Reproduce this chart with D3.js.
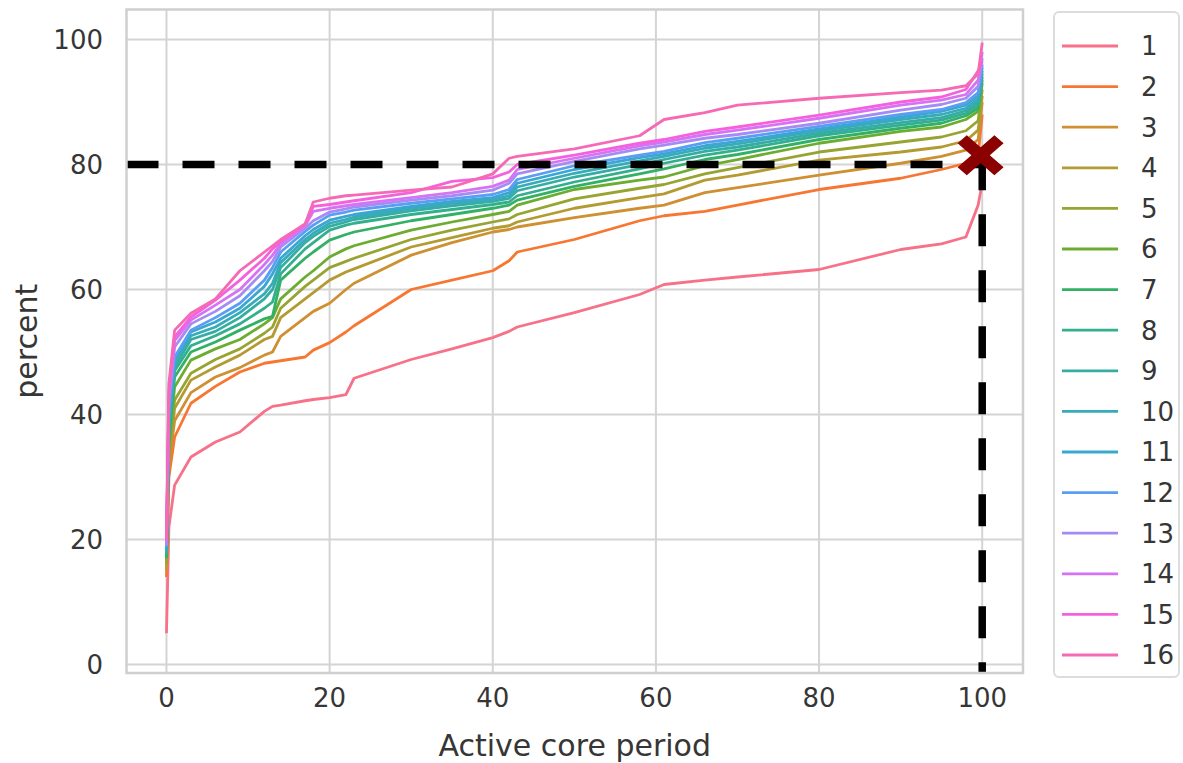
<!DOCTYPE html>
<html>
<head>
<meta charset="utf-8">
<script src="https://cdn.jsdelivr.net/npm/d3@7"></script>
<style>
	body { margin: 0; background: #fff; }
	text { font-family: "DejaVu Sans", sans-serif; fill: #363636; }
</style>
</head>
<body>
<svg class="chart" width="1183" height="763"></svg>
<script>
// active core period (x) shared by every series
var periods = [0, 0.3, 1, 3, 6, 9, 12, 13, 14, 17, 18, 20, 22, 23, 30, 35, 40, 42, 43, 50, 58, 61, 66, 70, 80, 90, 95, 98, 99.5, 100];

var series1 = [5, 22, 28.7, 33.2, 35.6, 37.2, 40.5, 41.3, 41.5, 42.2, 42.4, 42.7, 43.2, 45.8, 48.8, 50.5, 52.3, 53.3, 54, 56.3, 59.2, 60.8, 61.5, 62, 63.2, 66.4, 67.3, 68.4, 73.5, 77],
	series2 = [14, 30, 36.4, 41.8, 44.5, 46.8, 48.2, 48.4, 48.6, 49.2, 50.3, 51.5, 53.2, 54.2, 60, 61.5, 63, 64.6, 66, 68, 71, 71.8, 72.5, 73.5, 76, 77.8, 79.2, 80.2, 81.5, 88],
	series3 = [15, 32, 39, 43.5, 46, 47.5, 49.5, 50, 52.5, 55.5, 56.5, 57.8, 60, 61, 65.5, 67.5, 69.2, 69.6, 70, 71.5, 73, 73.5, 75.5, 76.3, 78.3, 80.2, 81.3, 82.3, 84, 90],
	series4 = [16, 33, 41, 45.5, 47.6, 49.5, 52, 52.5, 55.5, 58.5, 59.5, 61.5, 62.8, 63.3, 66.8, 68.3, 69.8, 70.2, 70.8, 73, 74.7, 75.3, 77.5, 78.3, 80.7, 82, 82.8, 83.8, 85.5, 91],
	series5 = [16, 34, 42.3, 46.6, 48.8, 50.5, 53, 54, 57, 60.5, 61.5, 63.5, 64.5, 65, 68, 69.5, 70.8, 71.3, 72, 74.5, 76.2, 76.8, 78.5, 79.5, 82, 83.6, 84.4, 85.4, 87, 92],
	series6 = [17, 35, 44.4, 48.7, 50.5, 52, 54.5, 55.5, 58.5, 62, 63, 65.2, 66.5, 67, 69.5, 70.8, 72, 72.5, 73.5, 76, 77.5, 78, 79.8, 80.8, 83.4, 85.3, 86, 87.2, 88.5, 93],
	series7 = [17, 36, 46, 50, 51.6, 53.5, 55.3, 55.7, 61.5, 65, 66, 67.9, 68.8, 69.2, 71, 72, 73, 73.5, 74.3, 76.5, 78.5, 79.3, 80.8, 81.6, 84, 85.8, 86.6, 87.8, 89, 93.5],
	series8 = [17.5, 37, 47, 51, 52.6, 54.5, 57, 58, 62.5, 66.5, 67.5, 69.5, 70.3, 70.6, 72, 72.8, 73.6, 74, 75, 77.2, 79.3, 80.2, 81.5, 82.3, 84.6, 86.3, 87.1, 88.2, 89.5, 94],
	series9 = [18, 38, 47.6, 52, 53.3, 55.5, 58.5, 60, 63.5, 67.5, 68.5, 70.1, 70.8, 71.2, 72.6, 73.4, 74.1, 74.6, 75.8, 78, 80, 80.8, 82.1, 82.8, 85, 86.7, 87.5, 88.6, 90, 94.5],
	series10 = [18, 39, 48.4, 52.6, 54, 56.3, 59.3, 61, 64.3, 68, 69, 70.6, 71.2, 71.6, 73, 73.8, 74.4, 75, 76.4, 78.6, 80.6, 81.3, 82.6, 83.3, 85.4, 87.2, 88, 89, 90.5, 95],
	series11 = [18.5, 40, 49, 53.2, 54.8, 57, 60.5, 62.5, 65, 68.6, 69.6, 71.1, 71.7, 72, 73.3, 74.1, 74.7, 75.5, 77, 79.2, 81.1, 81.7, 83, 83.7, 85.7, 87.6, 88.5, 89.5, 91, 95.5],
	series12 = [19, 41, 49.2, 53.5, 55.5, 57.8, 61.5, 63.5, 66, 69.3, 70.3, 71.9, 72.4, 72.7, 73.8, 74.5, 75.2, 76, 77.6, 79.8, 81.5, 82.1, 83.5, 84.2, 86.1, 88, 88.8, 89.9, 91.5, 96],
	series13 = [19, 42, 50.8, 54.5, 56.5, 59, 63, 64.5, 66.8, 69.8, 71, 72.4, 72.9, 73.2, 74.3, 75, 75.9, 77, 78.5, 80.5, 82.5, 83.1, 84.2, 84.8, 86.6, 88.7, 89.6, 90.6, 92.5, 97],
	series14 = [19.5, 43, 51.8, 55.1, 57.5, 60, 64, 65.5, 67.3, 70.2, 72.5, 73, 73.4, 73.6, 74.7, 75.5, 76.5, 77.5, 79.2, 81, 83, 83.6, 84.8, 85.5, 87.4, 89.5, 90.3, 91.2, 93.5, 98],
	series15 = [20, 44, 52.4, 55.6, 58.3, 61.5, 65, 66.5, 67.7, 70.5, 73.3, 73.6, 74, 74.2, 75.5, 77.3, 77.9, 78.8, 80, 81.5, 83.4, 84, 85.3, 86, 87.9, 90, 90.8, 92, 95, 96.5],
	series16 = [20, 45, 53.5, 56.2, 58.5, 63, 66, 67, 68, 70.5, 74, 74.6, 75, 75.1, 75.9, 76.4, 78.5, 81, 81.3, 82.5, 84.6, 87.2, 88.3, 89.5, 90.6, 91.5, 91.9, 92.6, 94.5, 99.5];

var seriesNames = ["1", "2", "3", "4", "5", "6", "7", "8", "9", "10", "11", "12", "13", "14", "15", "16"];
var allSeries = [series1, series2, series3, series4, series5, series6, series7, series8,
	series9, series10, series11, series12, series13, series14, series15, series16];

var xTicks = [0, 20, 40, 60, 80, 100],
	yTicks = [0, 20, 40, 60, 80, 100];

// threshold guide and marker
var thresholdX = 100,
	thresholdY = 80,
	markerPoint = [99.8, 81.5];

// seaborn husl palette (h=.01, s=.9, l=.65)
function huslToHex(h, s, l) {
	var m = [[3.2406, -1.5372, -0.4986], [-0.9689, 1.8758, 0.0415], [0.0557, -0.2040, 1.0570]];
	var refU = 0.19784, refV = 0.46834, kappa = 903.3, eps = 0.008856;
	var hrad = h / 360 * 2 * Math.PI,
		sinH = Math.sin(hrad),
		cosH = Math.cos(hrad);
	var sub1 = Math.pow(l + 16, 3) / 1560896,
		sub2 = sub1 > eps ? sub1 : l / kappa;
	var maxC = Infinity;
	m.forEach(function (row) {
		var t0 = (0.99915 * row[0] + 1.05122 * row[1] + 1.14460 * row[2]) * sub2;
		var rbottom = 0.86330 * row[2] - 0.17266 * row[1];
		var lbottom = 0.12949 * row[2] - 0.38848 * row[0];
		var bottom = (rbottom * sinH + lbottom * cosH) * sub2;
		[0, 1].forEach(function (t) {
			var c = l * (t0 - 1.05122 * t) / (bottom + 0.17266 * sinH * t);
			if (c > 0 && c < maxC) maxC = c;
		});
	});
	var C = maxC / 100 * s;
	var U = Math.cos(hrad) * C,
		V = Math.sin(hrad) * C;
	var t3 = Math.pow((l + 16) / 116, 3);
	var Y = t3 > eps ? t3 : l / kappa;
	var varU = U / (13 * l) + refU,
		varV = V / (13 * l) + refV;
	var X = -(9 * Y * varU) / ((varU - 4) * varV - varU * varV);
	var Z = (9 * Y - 15 * varV * Y - varV * X) / (3 * varV);
	var rgb = m.map(function (row) {
		var c = row[0] * X + row[1] * Y + row[2] * Z;
		c = c <= 0.0031308 ? 12.92 * c : 1.055 * Math.pow(c, 1 / 2.4) - 0.055;
		return Math.max(0, Math.min(1, c)) * 255;
	});
	return d3.rgb(rgb[0], rgb[1], rgb[2]).formatHex();
}

var palette = seriesNames.map(function (d, i) {
	var h = ((i / seriesNames.length + 0.01) % 1) * 359;
	return huslToHex(h, 0.9 * 99, 0.65 * 99);
});
var color = d3.scaleOrdinal().domain(seriesNames).range(palette);

var svg = d3.select(".chart"),
	plotLeft = 126.5,
	plotRight = 1023,
	plotTop = 9.5,
	plotBottom = 673;

var x = d3.scaleLinear().domain([-4.9, 105]).range([plotLeft, plotRight]),
	y = d3.scaleLinear().domain([-1.36, 104.8]).range([plotBottom, plotTop]);

svg.append("rect").attr("width", 1183).attr("height", 763).attr("fill", "#fff");

svg.append("defs").append("clipPath").attr("id", "plot-clip")
	.append("rect")
	.attr("x", plotLeft).attr("y", plotTop)
	.attr("width", plotRight - plotLeft).attr("height", plotBottom - plotTop);

// grid
var grid = svg.append("g").attr("class", "grid");
grid.selectAll(".gx").data(xTicks).enter().append("line")
	.attr("x1", function (d) { return x(d); })
	.attr("x2", function (d) { return x(d); })
	.attr("y1", plotTop).attr("y2", plotBottom)
	.attr("stroke", "#d4d4d4").attr("stroke-width", 2);
grid.selectAll(".gy").data(yTicks).enter().append("line")
	.attr("x1", plotLeft).attr("x2", plotRight)
	.attr("y1", function (d) { return y(d); })
	.attr("y2", function (d) { return y(d); })
	.attr("stroke", "#d4d4d4").attr("stroke-width", 2);

// tick labels
svg.selectAll(".xt").data(xTicks).enter().append("text")
	.attr("x", function (d) { return x(d); })
	.attr("y", 707)
	.attr("text-anchor", "middle")
	.attr("font-size", "26px")
	.text(function (d) { return d; });
svg.selectAll(".yt").data(yTicks).enter().append("text")
	.attr("x", 103)
	.attr("y", function (d) { return y(d); })
	.attr("dy", "0.36em")
	.attr("text-anchor", "end")
	.attr("font-size", "26px")
	.text(function (d) { return d; });

svg.append("text")
	.attr("x", (plotLeft + plotRight) / 2)
	.attr("y", 756)
	.attr("text-anchor", "middle")
	.attr("font-size", "30px")
	.text("Active core period");
svg.append("text")
	.attr("transform", "translate(37," + (plotTop + plotBottom) / 2 + ") rotate(-90)")
	.attr("text-anchor", "middle")
	.attr("font-size", "30px")
	.text("percent");

// lines
var line = d3.line()
	.x(function (d) { return x(d[0]); })
	.y(function (d) { return y(d[1]); });

var plot = svg.append("g").attr("clip-path", "url(#plot-clip)");
plot.selectAll(".series").data(allSeries).enter().append("path")
	.attr("class", "series")
	.attr("d", function (vals) {
		return line(periods.map(function (p, j) { return [p, vals[j]]; }));
	})
	.attr("fill", "none")
	.attr("stroke", function (d, i) { return color(seriesNames[i]); })
	.attr("stroke-width", 2.8)
	.attr("stroke-linejoin", "round");

// dashed guides
plot.append("path")
	.attr("d", line([[x.domain()[0], thresholdY], [thresholdX, thresholdY]]))
	.attr("stroke", "#000").attr("stroke-width", 7.5)
	.attr("stroke-dasharray", "32,24").attr("fill", "none");
plot.append("path")
	.attr("d", line([[thresholdX, markerPoint[1] - 0.5], [thresholdX, y.domain()[0]]]))
	.attr("stroke", "#000").attr("stroke-width", 7.5)
	.attr("stroke-dasharray", "32,24").attr("fill", "none");

// filled X marker
var a = 0.4, hw = 23, hh = 20;
var xShape = [[0, a], [1 - a, 1], [1, 1 - a], [a, 0], [1, -1 + a], [1 - a, -1], [0, -a], [-1 + a, -1], [-1, -1 + a], [-a, 0], [-1, 1 - a], [-1 + a, 1]];
svg.append("path")
	.attr("transform", "translate(" + x(markerPoint[0]) + "," + y(markerPoint[1]) + ")")
	.attr("d", "M" + xShape.map(function (p) { return [p[0] * hw, p[1] * hh]; }).join("L") + "Z")
	.attr("fill", "#8b0000");

// axes frame
svg.append("rect")
	.attr("x", plotLeft).attr("y", plotTop)
	.attr("width", plotRight - plotLeft).attr("height", plotBottom - plotTop)
	.attr("fill", "none").attr("stroke", "#cfcfcf").attr("stroke-width", 2.5);

// legend
var legend = svg.append("g").attr("class", "legend");
legend.append("rect")
	.attr("x", 1054).attr("y", 12)
	.attr("width", 125).attr("height", 665)
	.attr("rx", 5)
	.attr("fill", "#fff").attr("stroke", "#dcdcdc").attr("stroke-width", 2);
var item = legend.selectAll(".item").data(seriesNames).enter().append("g")
	.attr("transform", function (d, i) { return "translate(0," + (46 + i * 40.6) + ")"; });
item.append("line")
	.attr("x1", 1062).attr("x2", 1118)
	.attr("stroke", function (d) { return color(d); })
	.attr("stroke-width", 2.8);
item.append("text")
	.attr("x", 1141)
	.attr("dy", "0.36em")
	.attr("font-size", "26px")
	.text(function (d) { return d; });
</script>
</body>
</html>
